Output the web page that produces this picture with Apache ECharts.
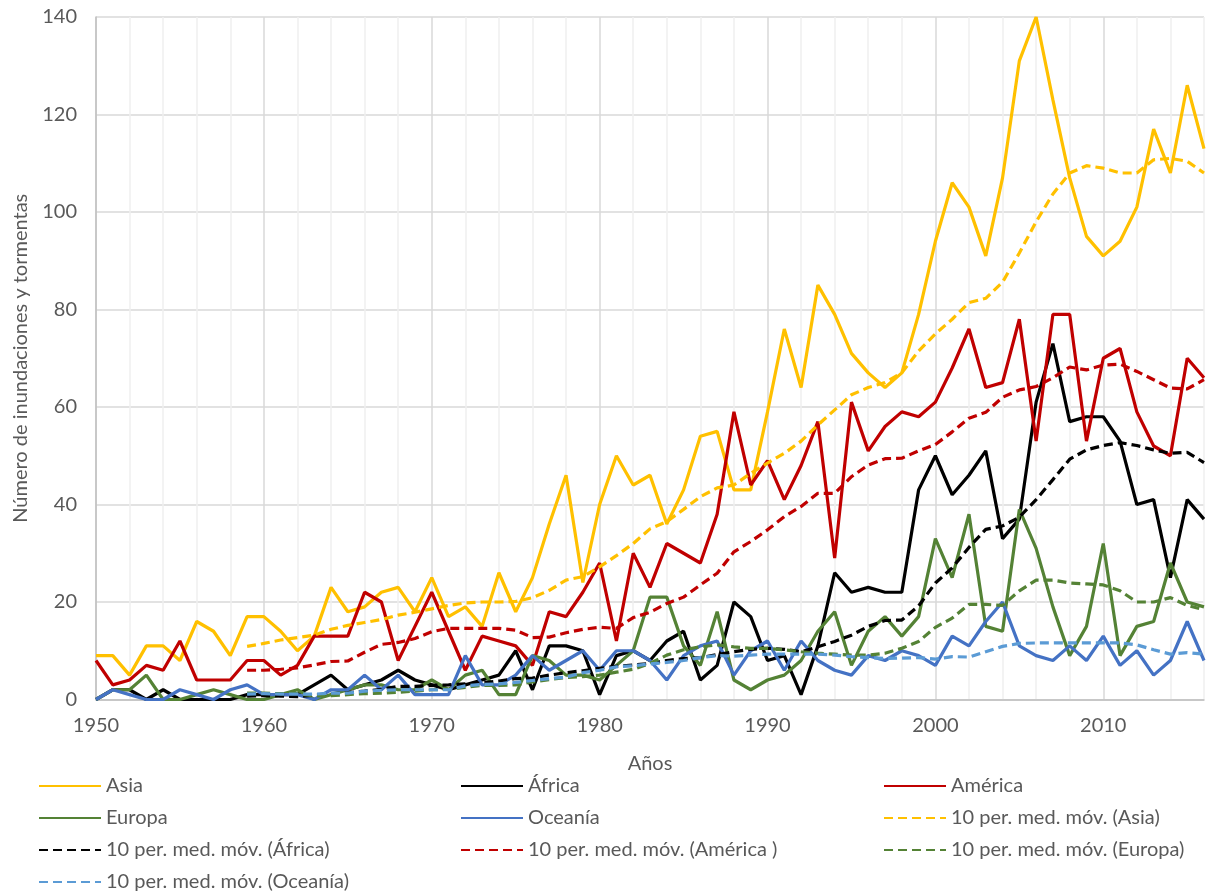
<!DOCTYPE html>
<html>
<head>
<meta charset="utf-8">
<script src="https://cdn.jsdelivr.net/npm/echarts@6/dist/echarts.min.js"></script>
<style>
html,body{margin:0;padding:0;background:#fff;}
#chart{width:1208px;height:894px;}
</style>
</head>
<body>
<div id="chart"></div>
<script>
// ---------- DATA ----------
const years = [];
for (let y = 1950; y <= 2016; y++) years.push(y);

const asia = [9,9,5,11,11,8,16,14,9,17, 17,14,10,13,23,18,19,22,23,18, 25,17,19,15,26,18,25,36,46,24, 40,50,44,46,36,43,54,55,43,43, 59,76,64,85,79,71,67,64,67,79, 94,106,101,91,107,131,140,123,107,95, 91,94,101,117,108,126,113];
const africa = [0,2,2,0,2,0,0,0,0,1, 1,1,1,3,5,2,3,4,6,4, 3,2,3,4,5,10,2,11,11,10, 1,9,10,8,12,14,4,7,20,17, 8,9,1,11,26,22,23,22,22,43, 50,42,46,51,33,37,61,73,57,58, 58,53,40,41,25,41,37];
const america = [8,3,4,7,6,12,4,4,4,8, 8,5,7,13,13,13,22,20,8,15, 22,14,6,13,12,11,7,18,17,22, 28,12,30,23,32,30,28,38,59,44, 49,41,48,57,29,61,51,56,59,58, 61,68,76,64,65,78,53,79,79,53, 70,72,59,52,50,70,66];
const europa = [0,2,2,5,0,0,1,2,1,0, 0,1,2,0,1,2,3,3,2,2, 4,2,5,6,1,1,9,8,5,5, 4,7,10,21,21,11,7,18,4,2, 4,5,8,14,18,7,14,17,13,17, 33,25,38,15,14,39,31,19,9,15, 32,9,15,16,28,20,19];
const oceania = [0,2,1,0,0,2,1,0,2,3, 1,1,1,0,2,2,5,2,5,1, 1,1,9,3,3,5,9,6,8,10, 6,10,10,8,4,9,11,12,5,10, 12,6,12,8,6,5,9,8,10,9, 7,13,11,16,20,11,9,8,11,8, 13,7,10,5,8,16,8];

// 10-period moving averages (1950-1958 empty)
const maAsia = [null,null,null,null,null,null,null,null,null, 10.9,
  11.5,12.2,12.7,13.2,14.4,15.2,15.8,16.4,17.3,17.9,
  18.6,19.3,19.8,20,20,20.1,20.9,22.4,24.5,25.2,
  27.2,29.5,32,35,36.5,39,41.6,43.4,44,46.4,
  48.5,50.5,53,56.3,59.4,62.5,64,65,67,71.5,
  75,78,81.4,82.3,85.6,91.6,98,103.7,108,109.5,
  109,108,108,110.7,111,110.4,108];
const maAfrica = [null,null,null,null,null,null,null,null,null, 0.7,
  0.8,0.7,0.6,0.9,1.2,1.4,1.7,2.1,2.7,2.7,
  2.9,3.0,3.2,3.4,3.8,4.3,4.4,5.0,5.5,5.9,
  6.4,6.8,7.1,7.4,8.0,8.4,8.6,9.2,9.8,10.3,
  10.5,10.3,9.8,10.8,11.9,13.2,15,16.2,16.3,19.2,
  23.9,27,31.2,34.9,35.6,37.4,41,45.1,49.3,51.2,
  52.1,52.7,52.1,51.2,50.5,50.7,48.6];
const maAmerica = [null,null,null,null,null,null,null,null,null, 6,
  6,6.2,6.5,7.1,7.8,7.9,9.7,11.3,11.7,12.5,
  13.9,14.6,14.6,14.6,14.6,14.2,12.7,12.8,13.7,14.4,
  14.8,14.6,16.8,17.9,19.7,21,23.5,25.9,30.3,32.4,
  34.8,37.5,39.6,42.3,42.3,45.7,48.1,49.4,49.5,51,
  52.3,54.9,57.7,58.9,62,63.5,64.2,66,68.2,67.6,
  68.6,68.8,67.3,65.6,63.9,63.7,65.6];
const maEuropa = [null,null,null,null,null,null,null,null,null, 1.3,
  1.3,1.2,1.2,0.7,0.8,1.0,1.2,1.3,1.5,1.7,
  2.0,2.1,2.5,2.9,2.9,3.0,3.6,4.1,4.5,4.7,
  5.0,5.6,6.2,7.4,9.1,10.2,10.8,11.2,10.8,10.5,
  10.5,10.2,9.8,9.5,9.3,9.1,9.1,9.5,10.5,11.9,
  14.8,16.7,19.5,19.5,19.3,22.3,24.5,24.5,23.9,23.7,
  23.5,22.3,20,20,20.9,19.3,18.4];
const maOceania = [null,null,null,null,null,null,null,null,null, 1.1,
  1.2,1.1,1.1,1.1,1.3,1.3,1.7,1.9,2.0,2.0,
  2.0,2.0,2.8,3.1,3.2,3.5,3.9,4.3,4.6,5.5,
  6.0,6.7,6.9,7.3,7.6,8.0,8.6,9.0,8.9,9.1,
  9.3,9.3,9.3,9.3,9.1,8.8,8.6,8.4,8.5,8.6,
  8.3,8.8,8.7,9.8,10.9,11.5,11.6,11.6,11.6,11.6,
  11.6,11.6,11.2,10.2,9.3,9.6,9.3];

const yTicks = [0,20,40,60,80,100,120,140];
const xLabelYears = [1950,1960,1970,1980,1990,2000,2010];

const names = {
  asia: 'Asia', africa: 'África', america: 'América', europa: 'Europa', oceania: 'Oceanía',
  maAsia: '10 per. med. móv. (Asia)', maAfrica: '10 per. med. móv. (África)',
  maAmerica: '10 per. med. móv. (América )', maEuropa: '10 per. med. móv. (Europa)',
  maOceania: '10 per. med. móv. (Oceanía)'
};

// ---------- CHART ----------
const pairs = arr => years.map((y, i) => [y, arr[i]]);
const FONT = 'Lato';
const TXT = '#595959';

function line(name, arr, color, dashed) {
  return {
    name: name, type: 'line', data: pairs(arr),
    showSymbol: false, symbol: 'none', connectNulls: false,
    lineStyle: { color: color, width: 3.2, type: dashed ? [9, 5] : 'solid', cap: 'butt' },
    itemStyle: { color: color },
    emphasis: { disabled: true }, animation: false
  };
}

const legendBase = {
  orient: 'vertical', top: 776, itemWidth: 62, itemHeight: 14, itemGap: 12, padding: 0,
  itemStyle: { opacity: 0 },
  textStyle: { fontFamily: FONT, fontSize: 20, color: TXT, lineHeight: 20 },
  selectedMode: false
};

const option = {
  backgroundColor: '#ffffff',
  animation: false,
  grid: { left: 96, right: 4, top: 17, bottom: 194.5, containLabel: false },
  xAxis: {
    type: 'value', min: 1950, max: 2016, interval: 2,
    name: 'Años', nameLocation: 'middle', nameGap: 54,
    nameTextStyle: { fontFamily: FONT, fontSize: 20, color: TXT },
    axisLine: { show: true, lineStyle: { color: '#bfbfbf', width: 1.5 } },
    axisTick: { show: false },
    axisLabel: {
      fontFamily: FONT, fontSize: 20, color: TXT, margin: 16,
      showMaxLabel: false,
      formatter: v => (xLabelYears.indexOf(v) >= 0 ? String(v) : '')
    },
    splitLine: { show: true, lineStyle: { color: ['#d9d9d9', '#efefef', '#efefef', '#efefef', '#efefef'], width: 1.5 } }
  },
  yAxis: {
    type: 'value', min: yTicks[0], max: yTicks[yTicks.length - 1], interval: 20,
    name: 'Número de inundaciones y tormentas', nameLocation: 'middle', nameGap: 65, nameRotate: 90,
    nameTextStyle: { fontFamily: FONT, fontSize: 20, color: TXT },
    axisLine: { show: true, lineStyle: { color: '#bfbfbf', width: 1.5 } },
    axisTick: { show: false },
    axisLabel: { fontFamily: FONT, fontSize: 20, color: TXT, margin: 19 },
    splitLine: { show: true, lineStyle: { color: '#d9d9d9', width: 1.5 } }
  },
  legend: [
    Object.assign({}, legendBase, { left: 38, data: [names.asia, names.europa, names.maAfrica, names.maOceania] }),
    Object.assign({}, legendBase, { left: 460, data: [names.africa, names.oceania, names.maAmerica] }),
    Object.assign({}, legendBase, { left: 883, data: [names.america, names.maAsia, names.maEuropa] })
  ],
  series: [
    line(names.asia, asia, '#FFC000', false),
    line(names.africa, africa, '#000000', false),
    line(names.america, america, '#C00000', false),
    line(names.europa, europa, '#548235', false),
    line(names.oceania, oceania, '#4472C4', false),
    line(names.maAsia, maAsia, '#FFC000', true),
    line(names.maAfrica, maAfrica, '#000000', true),
    line(names.maAmerica, maAmerica, '#C00000', true),
    line(names.maEuropa, maEuropa, '#548235', true),
    line(names.maOceania, maOceania, '#5B9BD5', true)
  ]
};

const chart = echarts.init(document.getElementById('chart'), null, { renderer: 'canvas' });
chart.setOption(option);
</script>
</body>
</html>
